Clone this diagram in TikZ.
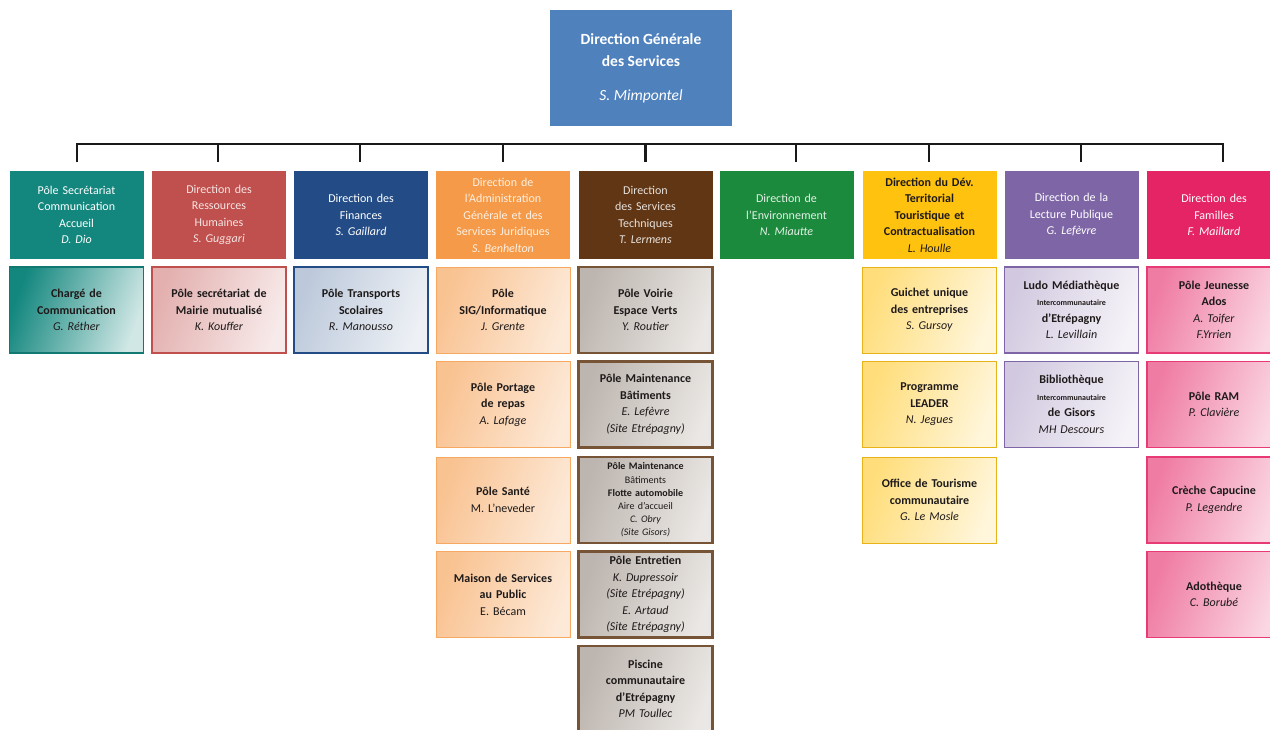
\documentclass[tikz,border=0pt]{standalone}
\usepackage{fontspec}
\setmainfont{Carlito}
\definecolor{ctop}{HTML}{4F81BD}
\definecolor{cteal}{HTML}{13877E}
\definecolor{cred}{HTML}{C0504D}
\definecolor{cblue}{HTML}{234C87}
\definecolor{corange}{HTML}{F59A48}
\definecolor{cbrown}{HTML}{603614}
\definecolor{cgreen}{HTML}{1C8A3C}
\definecolor{cyellow}{HTML}{FFC20E}
\definecolor{cpurple}{HTML}{7E66A6}
\definecolor{cpink}{HTML}{E52466}
\definecolor{ctext}{HTML}{1E1A1A}
\definecolor{cgrayA}{HTML}{BDB5AF}
\definecolor{cgrayB}{HTML}{EAE7E4}
\newcommand{\tinyline}[1]{{\fontsize{8}{9.5}\selectfont #1}}
\begin{document}
\begin{tikzpicture}[x=1pt,y=-1pt,
  bus/.style={line width=2.8pt, draw=black!90},
  box/.style={minimum width=134pt, minimum height=86pt, inner sep=0pt, align=center,
              text width=132pt, font=\fontsize{12}{16.5}\selectfont},
  head/.style={box, minimum height=88pt, text=white, fill=#1},
  kid/.style={box, draw=#1, line width=1.3pt, text=ctext, font=\fontsize{12}{16.5}\selectfont\bfseries},
  k1/.style={kid=cteal!90!black, left color=cteal, right color=cteal!20, shading angle=70},
  k2/.style={kid=cred, left color=cred!45, right color=cred!12, shading angle=70},
  k3/.style={kid=cblue, left color=cblue!30, right color=cblue!8, shading angle=70},
  k4/.style={kid=corange!85, line width=1pt, left color=corange!60, right color=corange!22, shading angle=70},
  k5/.style={kid=cbrown!85, line width=2.4pt, left color=cgrayA, right color=cgrayB, shading angle=70},
  k7/.style={kid=cyellow!90!black!95, line width=1pt, left color=cyellow!55, right color=cyellow!15, shading angle=70},
  k8/.style={kid=cpurple, left color=cpurple!35, right color=cpurple!8, shading angle=70},
  k9/.style={kid=cpink!90, left color=cpink!60, right color=cpink!18, shading angle=70}]
\useasboundingbox (0,0) rectangle (1270,729);
\fill[white] (0,0) rectangle (1270,729);

% top
\node[fill=ctop, minimum width=182pt, minimum height=116pt, inner sep=0pt, align=center, text=white,
      font=\fontsize{15.5}{22}\selectfont] (top) at (641,68)
  {\textbf{Direction Générale}\\\textbf{des Services}\\[12pt]\textit{S. Mimpontel}};

% headers
\node[head=cteal] (h1) at (76.5,215) {Pôle Secrétariat\\Communication\\Accueil\\\textit{D. Dio}};
\node[head=cred, text=white!85!cred] (h2) at (219,215) {Direction des\\Ressources\\Humaines\\\textit{S. Guggari}};
\node[head=cblue] (h3) at (361,215) {Direction des\\Finances\\\textit{S. Gaillard}};
\node[head=corange, text=white!85!corange] (h4) at (503,215) {Direction de\\l'Administration\\Générale et des\\Services Juridiques\\\textit{S. Benhelton}};
\node[head=cbrown, text=white!85!cbrown] (h5) at (645.5,215) {Direction\\des Services\\Techniques\\\textit{T. Lermens}};
\node[head=cgreen, text=white!88!cgreen] (h6) at (786.5,215) {Direction de\\l'Environnement\\\textit{N. Miautte}};
\node[head=cyellow, text=ctext, font=\fontsize{12}{16.5}\selectfont\bfseries] (h7) at (929.5,215) {Direction du Dév.\\Territorial\\Touristique et\\Contractualisation\\\textmd{\textit{L. Houlle}}};
\node[head=cpurple] (h8) at (1071.5,215) {Direction de la\\Lecture Publique\\\textit{G. Lefèvre}};
\node[head=cpink] (h9) at (1214,215) {Direction des\\Familles\\\textit{F. Maillard}};

% bus and drops
\coordinate (d1) at (77,144);
\coordinate (d2) at (218,144);
\coordinate (d3) at (360,144);
\coordinate (d4) at (503,144);
\coordinate (d5) at (645.5,144);
\coordinate (d6) at (796,144);
\coordinate (d7) at (929,144);
\coordinate (d8) at (1081,144);
\coordinate (d9) at (1223,144);
\draw[bus, line cap=butt, line join=miter] ([yshift=-18pt]d1) -- (d1) -- (d9) -- ([yshift=-18pt]d9);
\foreach \i in {2,...,8} \draw[bus, line cap=butt] (d\i) -- ([yshift=-18pt]d\i);

% column 1-3
\node[k1] (c1a) at (76.5,310) {Chargé de\\Communication\\\textmd{\textit{G. Réther}}};
\node[k2] (c2a) at (219,310) {Pôle secrétariat de\\Mairie mutualisé\\\textmd{\textit{K. Kouffer}}};
\node[k3] (c3a) at (361,310) {Pôle Transports\\Scolaires\\\textmd{\textit{R. Manousso}}};

% column 4
\node[k4] (c4a) at (503,310) {Pôle\\SIG/Informatique\\\textmd{\textit{J. Grente}}};
\node[k4] (c4b) at (503,404.5) {Pôle Portage\\de repas\\\textmd{\textit{A. Lafage}}};
\node[k4] (c4c) at (503,500) {Pôle Santé\\\textmd{M. L'neveder}};
\node[k4] (c4d) at (503,594.5) {Maison de Services\\au Public\\\textmd{E. Bécam}};

% column 5
\node[k5] (c5a) at (645.5,310) {Pôle Voirie\\Espace Verts\\\textmd{\textit{Y. Routier}}};
\node[k5] (c5b) at (645.5,404.5) {Pôle Maintenance\\Bâtiments\\\textmd{\textit{E. Lefèvre}}\\\textmd{\textit{(Site Etrépagny)}}};
\node[k5, font=\fontsize{10}{13.2}\selectfont\bfseries] (c5c) at (645.5,500) {Pôle Maintenance\\\textmd{Bâtiments}\\Flotte automobile\\\textmd{Aire d'accueil}\\\textmd{\textit{C. Obry}}\\\textmd{\textit{(Site Gisors)}}};
\node[k5] (c5d) at (645.5,594.5) {Pôle Entretien\\\textmd{\textit{K. Dupressoir}}\\\textmd{\textit{(Site Etrépagny)}}\\\textmd{\textit{E. Artaud}}\\\textmd{\textit{(Site Etrépagny)}}};
\node[k5] (c5e) at (645.5,689) {Piscine\\communautaire\\d'Etrépagny\\\textmd{\textit{PM Toullec}}};

% column 7
\node[k7] (c7a) at (929.5,310) {Guichet unique\\des entreprises\\\textmd{\textit{S. Gursoy}}};
\node[k7] (c7b) at (929.5,404.5) {Programme\\LEADER\\\textmd{\textit{N. Jegues}}};
\node[k7] (c7c) at (929.5,500) {Office de Tourisme\\communautaire\\\textmd{\textit{G. Le Mosle}}};

% column 8
\node[k8] (c8a) at (1071.5,310) {Ludo Médiathèque\\\tinyline{Intercommunautaire}\\d'Etrépagny\\\textmd{\textit{L. Levillain}}};
\node[k8] (c8b) at (1071.5,404.5) {Bibliothèque\\\tinyline{Intercommunautaire}\\de Gisors\\\textmd{\textit{MH Descours}}};

% column 9
\node[k9] (c9a) at (1214,310) {Pôle Jeunesse\\Ados\\\textmd{\textit{A. Toifer}}\\\textmd{\textit{F.Yrrien}}};
\node[k9] (c9b) at (1214,404.5) {Pôle RAM\\\textmd{\textit{P. Clavière}}};
\node[k9] (c9c) at (1214,500) {Crèche Capucine\\\textmd{\textit{P. Legendre}}};
\node[k9] (c9d) at (1214,594.5) {Adothèque\\\textmd{\textit{C. Borubé}}};
\end{tikzpicture}
\end{document}
